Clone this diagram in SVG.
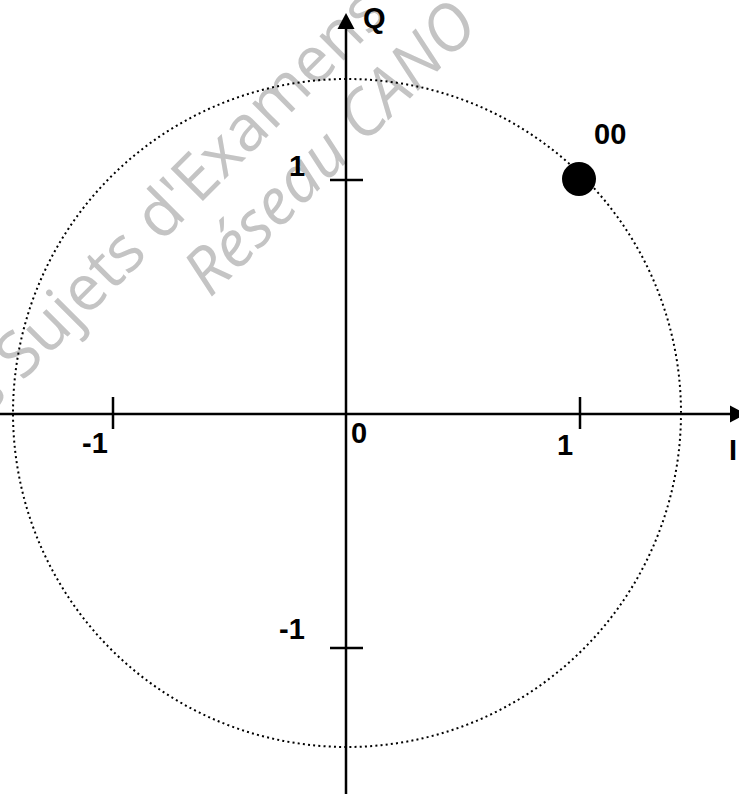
<svg xmlns="http://www.w3.org/2000/svg" width="739" height="794" viewBox="0 0 739 794">
  <style>
    .wm { font-family: "Open Sans", "DejaVu Sans", sans-serif; font-size: 64px; font-weight: normal; fill: #c4c4c4; }
    .lbl { font-family: "Liberation Sans", Arial, sans-serif; font-size: 29px; font-weight: bold; fill: #000; }
    .axis { stroke: #000; stroke-width: 2.5; fill: none; }
    .circ { stroke: #000; stroke-width: 2; fill: none; stroke-dasharray: 2 3.2; }
  </style>
  <rect width="739" height="794" fill="#fff"/>
  <g id="watermark" transform="translate(22,382) rotate(-45)">
    <text class="wm" x="-18" y="0" text-anchor="end">s</text>
    <text class="wm" x="0" y="0">Sujets d'Examens</text>
    <text class="wm" x="192" y="74" font-style="italic" font-size="66">Réseau CANO</text>
  </g>
  <g id="circle">
    <circle class="circ" cx="347" cy="413" r="334"/>
  </g>
  <g id="connectors">
    <line class="axis" x1="0" y1="414" x2="733" y2="414"/>
    <polygon points="730,405.5 746,414 730,422.5" fill="#000"/>
    <line class="axis" x1="346" y1="794" x2="346" y2="26"/>
    <polygon points="337.5,29 346,13 354.5,29" fill="#000"/>
    <line class="axis" x1="113" y1="397" x2="113" y2="429"/>
    <line class="axis" x1="580" y1="397" x2="580" y2="429"/>
    <line class="axis" x1="330" y1="180" x2="363" y2="180"/>
    <line class="axis" x1="330" y1="648" x2="363" y2="648"/>
  </g>
  <g id="point-00">
    <circle cx="579" cy="179" r="17" fill="#000"/>
    <text class="lbl" x="594" y="144">00</text>
  </g>
  <g id="labels">
    <text class="lbl" x="363" y="28">Q</text>
    <text class="lbl" x="729" y="460">I</text>
    <text class="lbl" x="351" y="443">0</text>
    <text class="lbl" x="557" y="455">1</text>
    <text class="lbl" x="82" y="453">-1</text>
    <text class="lbl" x="289" y="176">1</text>
    <text class="lbl" x="279" y="639">-1</text>
  </g>
</svg>
